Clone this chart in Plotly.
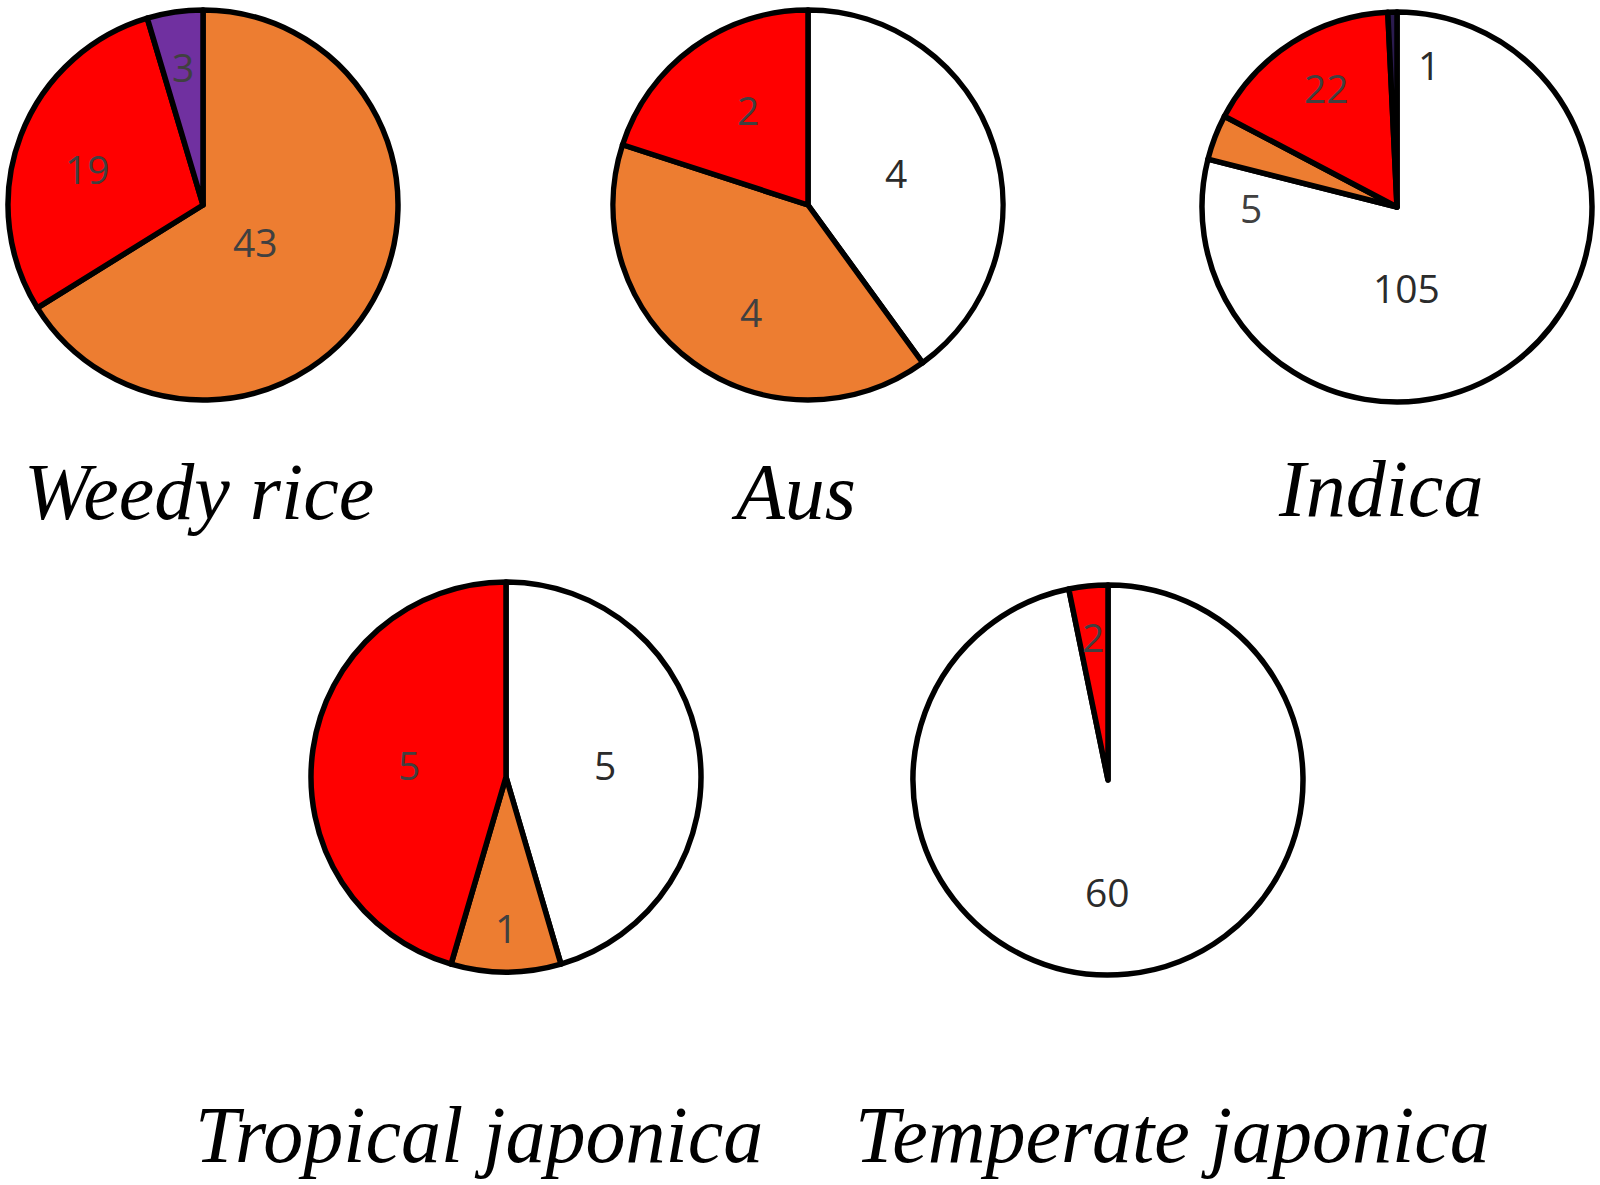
import math
import plotly.graph_objects as go

W, H = 1600, 1185

# slice counts, listed clockwise from 12 o'clock
group_names = ["Weedy rice", "Aus", "Indica", "Tropical japonica", "Temperate japonica"]

weedy_rice_cats = ["orange", "red", "purple"]
weedy_rice_vals = [43, 19, 3]

aus_cats = ["white", "orange", "red"]
aus_vals = [4, 4, 2]

indica_cats = ["white", "orange", "red", "navy"]
indica_vals = [105, 5, 22, 1]

trop_cats = ["white", "orange", "red"]
trop_vals = [5, 1, 5]

temp_cats = ["white", "red"]
temp_vals = [60, 2]

cats = [weedy_rice_cats, aus_cats, indica_cats, trop_cats, temp_cats]
vals = [weedy_rice_vals, aus_vals, indica_vals, trop_vals, temp_vals]

# ---- styling / layout ----
colors = {"white": "#FFFFFF", "orange": "#ED7D31", "red": "#FF0000",
          "purple": "#7030A0", "navy": "#2B1B4F"}
label_colors = {"white": "#2b2b2b", "orange": "#404040", "red": "#404040",
                "purple": "#404040", "navy": "#2b2b2b"}

R = 195  # pie radius in px
centers = [(203, 205), (808, 205), (1397, 207), (506, 777), (1108, 780)]
title_pos = [(199, 492), (793, 492), (1380, 489), (479, 1135), (1172, 1135)]

# label placement: (fraction of radius, angle nudge in degrees from slice middle)
label_place = [
    [(0.33, 6), (0.62, -3), (0.72, 0)],
    [(0.48, -2), (0.62, -8), (0.58, 4)],
    [(0.415, 31), (0.75, -21), (0.71, 2), (0.75, 14)],
    [(0.51, 1), (0.77, 0), (0.50, -1)],
    [(0.57, 6), (0.74, 0)],
]

fig = go.Figure()
annotations = []

for name, c, v, (cx, cy), places, (tx, ty) in zip(
        group_names, cats, vals, centers, label_place, title_pos):
    fig.add_trace(go.Pie(
        labels=c,
        values=v,
        sort=False,
        direction="clockwise",
        rotation=0,
        marker=dict(colors=[colors[k] for k in c],
                    line=dict(color="black", width=5.5)),
        textinfo="none",
        hoverinfo="label+value",
        showlegend=False,
        domain=dict(x=[(cx - R) / W, (cx + R) / W],
                    y=[1 - (cy + R) / H, 1 - (cy - R) / H]),
    ))

    total = sum(v)
    start = 0.0
    for k, val, (frac, nudge) in zip(c, v, places):
        span = 360.0 * val / total
        ang = math.radians(start + span / 2 + nudge)
        start += span
        px = cx + frac * R * math.sin(ang)
        py = cy - frac * R * math.cos(ang)
        annotations.append(dict(
            x=px / W, y=1 - py / H, xref="paper", yref="paper",
            text=str(val), showarrow=False, xanchor="center", yanchor="middle",
            font=dict(family="Open Sans", size=39, color=label_colors[k]),
        ))

    annotations.append(dict(
        x=tx / W, y=1 - ty / H, xref="paper", yref="paper",
        text=name, showarrow=False, xanchor="center", yanchor="middle",
        font=dict(family="Liberation Serif", size=80, color="black", style="italic"),
    ))

fig.update_layout(
    width=W, height=H,
    margin=dict(l=0, r=0, t=0, b=0),
    paper_bgcolor="white",
    plot_bgcolor="white",
    annotations=annotations,
)

# drop the default page margin so the figure sits at the window origin
fig.write_html("out.html", config={"displayModeBar": False},
               post_script="document.body.style.margin='0';")
